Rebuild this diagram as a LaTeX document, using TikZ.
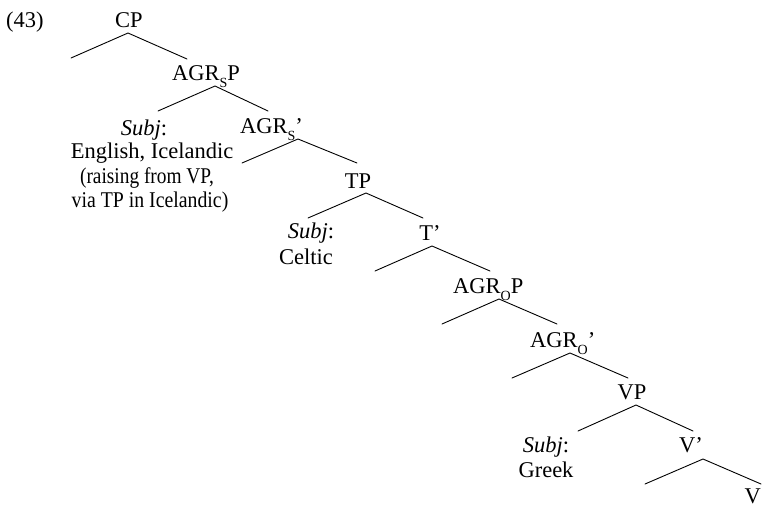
\documentclass[tikz,border=0pt]{standalone}
\usepackage{fontspec}
\setmainfont{Liberation Serif}
\newcommand{\agrsub}[1]{\raisebox{-0.34em}{\fontsize{14}{14}\selectfont #1}}
\begin{document}
\begin{tikzpicture}[x=1pt,y=-1pt,
  lbl/.style={inner sep=0pt,font=\fontsize{22.5}{24}\selectfont},
  br/.style={line width=0.9pt,line cap=round}]
\useasboundingbox (0,0) rectangle (762,507);
% labels
\node[lbl,anchor=base west] (ex) at (6,27) {(43)};
\node[lbl,anchor=base] (cp) at (129,27) {CP};
\node[lbl,anchor=base west] (agrsp) at (172,80) {AGR\agrsub{S}P};
\node[lbl,anchor=base] (subj1) at (144,135) {\textit{Subj}:};
\node[lbl,anchor=base] (eng) at (152,158) {English, Icelandic};
\node[lbl,anchor=base] (rais) at (147,183) {\scalebox{0.86}[1]{(raising from VP,}};
\node[lbl,anchor=base] (via) at (150,207) {\scalebox{0.88}[1]{via TP in Icelandic)}};
\node[lbl,anchor=base west] (agrsb) at (240,133) {AGR\agrsub{S}’};
\node[lbl,anchor=base] (tp) at (358,188) {TP};
\node[lbl,anchor=base] (subj2) at (311,238) {\textit{Subj}:};
\node[lbl,anchor=base] (celt) at (306,264) {Celtic};
\node[lbl,anchor=base] (tb) at (430,240) {T’};
\node[lbl,anchor=base west] (agrop) at (453,293) {AGR\agrsub{O}P};
\node[lbl,anchor=base west] (agrob) at (530,347) {AGR\agrsub{O}’};
\node[lbl,anchor=base] (vp) at (632,399) {VP};
\node[lbl,anchor=base] (subj3) at (546,452) {\textit{Subj}:};
\node[lbl,anchor=base] (greek) at (546,477) {Greek};
\node[lbl,anchor=base] (vb) at (691,452) {V’};
\node[lbl,anchor=base east] (v) at (761,503) {V};
% branch points
\coordinate (cpA) at (128,33);   \coordinate (cpL) at (71,58);   \coordinate (cpR) at (187,59);
\coordinate (asA) at (215,86);   \coordinate (asL) at (158,111); \coordinate (asR) at (268,111);
\coordinate (abA) at (298,139);  \coordinate (abL) at (242,163); \coordinate (abR) at (357,163);
\coordinate (tpA) at (366,193);  \coordinate (tpL) at (308,218); \coordinate (tpR) at (423,218);
\coordinate (tbA) at (432,246);  \coordinate (tbL) at (375,271); \coordinate (tbR) at (490,271);
\coordinate (aoA) at (499,299);  \coordinate (aoL) at (442,324); \coordinate (aoR) at (557,324);
\coordinate (obA) at (570,353);  \coordinate (obL) at (512,378); \coordinate (obR) at (628,378);
\coordinate (vpA) at (636,405);  \coordinate (vpL) at (578,431); \coordinate (vpR) at (693,431);
\coordinate (vbA) at (703,459);  \coordinate (vbL) at (645,484); \coordinate (vbR) at (761,484);
\foreach \n in {cp,as,ab,tp,tb,ao,ob,vp,vb}{
  \draw[br] (\n L) -- (\n A) -- (\n R);
}
\end{tikzpicture}
\end{document}
